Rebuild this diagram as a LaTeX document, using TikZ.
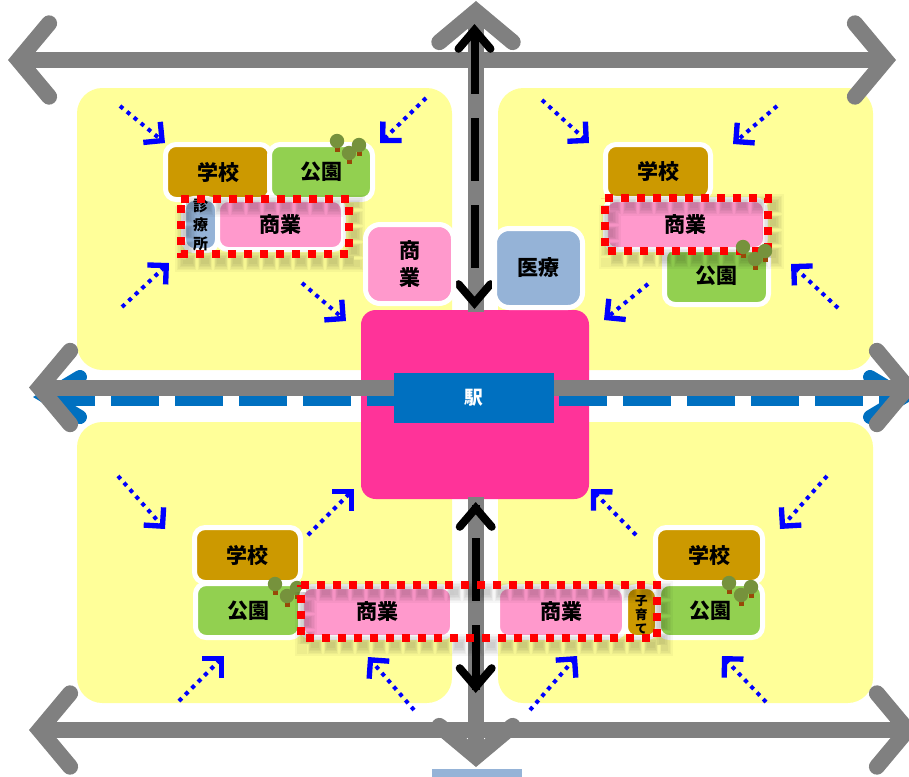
\documentclass[tikz,border=0pt]{standalone}
\usepackage{fontspec}
\setmainfont{Noto Sans CJK JP}
\usetikzlibrary{arrows.meta}
\definecolor{yel}{HTML}{FFFF99}
\definecolor{stapink}{HTML}{FF3399}
\definecolor{shop}{HTML}{FF99CC}
\definecolor{school}{HTML}{CC9900}
\definecolor{park}{HTML}{92D050}
\definecolor{med}{HTML}{95B3D7}
\definecolor{rail}{HTML}{0070C0}
\definecolor{road}{HTML}{808080}
\definecolor{crown}{HTML}{76923C}
\definecolor{trunk}{HTML}{984807}
\tikzset{
  blk/.style={draw=white,line width=3.75pt,rounded corners=8pt,inner sep=0pt,outer sep=0pt,align=center,text=black,font=\fontsize{15.75}{20}\selectfont\bfseries},
  vsmall/.style={font=\fontsize{11.25}{14.25}\selectfont\bfseries},
  vtiny/.style={font=\fontsize{9.4}{10.5}\selectfont\bfseries},
  vmed/.style={font=\fontsize{15.75}{20.25}\selectfont\bfseries},
  flat/.style={inner sep=0pt,outer sep=0pt,align=center},
  road head/.tip={Straight Barb[length=23pt,width=55pt,line cap=round]},
  road arrow/.style={draw=road,line width=12pt,road head-},
  road both/.style={draw=road,line width=12pt,road head-road head},
  rail arrow/.style={draw=rail,line width=10.5pt,-{Straight Barb[length=25pt,width=30pt,line cap=round]}},
  black arrow/.style={draw=black,line width=6pt,-{Straight Barb[length=14pt,width=24pt,line cap=round]}},
  black dash/.style={draw=black,line width=6pt,dash pattern=on 47.25pt off 18pt},
  flow/.style={draw=blue,line width=3pt,dash pattern=on 3pt off 3.75pt,-{Straight Barb[length=10pt,width=20pt,line width=4pt]}},
  zone/.style={draw=red,line width=5.8pt,dash pattern=on 6pt off 6pt,line join=miter},
  zone shadow/.style={draw=black,opacity=.035},
  trees/.pic={
    \fill[trunk] (-2.5,6) rectangle (2.5,11);
    \fill[trunk] (19.5,10) rectangle (24.5,15);
    \fill[trunk] (9.5,18) rectangle (14.5,23);
    \fill[crown] (0,0) circle[radius=5.4pt];
    \fill[crown] (22,4) circle[radius=5.4pt];
    \fill[crown] (12,12) circle[radius=5.4pt];
  }
}
\newcommand{\bx}[7][]{%
  \pgfmathsetmacro{\cxx}{(#3+#5)/2}\pgfmathsetmacro{\cyy}{(#4+#6)/2}%
  \pgfmathsetmacro{\ww}{(#5-#3+5)*.75}\pgfmathsetmacro{\hh}{(#6-#4+5)*.75}%
  \node[blk,minimum width=\ww pt,minimum height=\hh pt,#1] (#2) at (\cxx,\cyy) {#7};}
\newcommand{\pl}[7][]{%
  \pgfmathsetmacro{\cxx}{(#3+#5)/2}\pgfmathsetmacro{\cyy}{(#4+#6)/2}%
  \pgfmathsetmacro{\ww}{(#5-#3)*.75}\pgfmathsetmacro{\hh}{(#6-#4)*.75}%
  \node[flat,minimum width=\ww pt,minimum height=\hh pt,#1] (#2) at (\cxx,\cyy) {#7};}
\newcommand{\zoneframe}[4]{%
  \foreach \kk in {0,1,2,3,4,5}{%
    \pgfmathsetmacro{\lw}{5+2.2*\kk}\pgfmathsetmacro{\ona}{6+1.2*\kk}\pgfmathsetmacro{\ofa}{6-1.2*\kk}\pgfmathsetmacro{\pha}{.6*\kk}%
    \draw[zone shadow,line width=\lw pt,dash pattern=on \ona pt off \ofa pt,dash phase=\pha pt] (#1+5,#2+7) -- (#3+5,#2+7) -- (#3+5,#4+7) -- (#1+5,#4+7) -- cycle;}%
  \draw[zone] (#1,#2) -- (#3,#2) -- (#3,#4) -- (#1,#4) -- cycle;}
\begin{document}
\begin{tikzpicture}[x=0.75pt,y=-0.75pt]
\useasboundingbox (0,0) rectangle (909,776);
\clip (0,0) rectangle (909,776);
% city blocks
\pl[fill=yel,rounded corners=19pt]{ytl}{77}{88}{452}{370}{}
\pl[fill=yel,rounded corners=19pt]{ytr}{498}{88}{873}{370}{}
\pl[fill=yel,rounded corners=19pt]{ybl}{77}{422}{452}{703}{}
\pl[fill=yel,rounded corners=19pt]{ybr}{498}{422}{873}{703}{}
% station
\pl[fill=stapink,rounded corners=11pt]{sta}{361}{310}{589}{499}{}
\pl[fill=med]{bar}{432}{769}{522}{785}{}
% coordinates
\coordinate (ra) at (47,397);
\coordinate (rb) at (895,397);
\coordinate (rc) at (33,397);
\coordinate (rd) at (55,397);
\coordinate (re) at (895,397);
\coordinate (rf) at (917,397);
\coordinate (tl) at (8,60);
\coordinate (tr) at (896,60);
\coordinate (ml) at (29,387.5);
\coordinate (mr) at (918,387.5);
\coordinate (bl) at (29,730);
\coordinate (br) at (918,730);
\coordinate (vt) at (476,1);
\coordinate (vb) at (476,767);
\coordinate (vm1) at (476,312);
\coordinate (vm2) at (476,497);
\coordinate (k1) at (474.5,31);
\coordinate (k2) at (474.5,290);
\coordinate (k3) at (474.5,297);
\coordinate (k4) at (474.5,309);
\coordinate (k0) at (474.5,24);
\coordinate (k5) at (475.7,505);
\coordinate (k6) at (475.7,690);
\coordinate (k7) at (475.7,693);
\coordinate (k8) at (475.7,502);
% railway
\draw[draw=rail,line width=13pt,dash pattern=on 36pt off 12pt] (ra) -- (rb);
\draw[rail arrow] (rd) -- (rc);
\draw[rail arrow] (re) -- (rf);
\pl[fill=rail,text=white,font=\fontsize{14}{16}\selectfont\bfseries]{eki}{394}{373}{554}{423}{駅}
% roads
\draw[road both] (tl) -- (tr);
\draw[road arrow] (ml) -- (eki.west |- ml);
\draw[road arrow] (mr) -- (eki.east |- mr);
\draw[road both] (bl) -- (br);
\draw[road arrow] (vt) -- (vm1);
\draw[road arrow] (vb) -- (vm2);
% black arrows
\draw[black dash] (k1) -- (k2);
\draw[black arrow] (k1) -- (k0);
\draw[black arrow] (k3) -- (k4);
\draw[black dash,dash phase=40.5pt] (k5) -- (k6);
\draw[black arrow] (k5) -- (k8);
\draw[black arrow] (k6) -- (k7);
% flows
\foreach \n/\xa/\ya/\xb/\yb in {a/120/106/165/143,b/426/98/380/143,c/122/307/169/263,d/302/283/346/321,
  e/542/100/589/143,f/777/106/733/144,g/838/308/791/264,h/648/284/604/320,
  i/118/476/165/529,j/308/535/354/489,k/179/701/224/656,l/414/710/368/657,
  m/827/476/780/529,n/636/535/591/489,o/530/710/577/656,p/766/702/722/656}{
  \coordinate (s\n) at (\xa,\ya);
  \coordinate (t\n) at (\xb,\yb);
  \draw[flow] (s\n) -- (t\n);
}
% top-left block
\bx[fill=school]{a1}{168}{147}{268}{197}{学校}
\bx[fill=park]{a2}{272}{147}{370}{197}{公園}
\bx[fill=med,vsmall]{a3}{186}{203}{215}{246}{診\\療\\所}
\bx[fill=shop]{a4}{220}{202}{341}{247}{商業}
\pic at (337,141) {trees};
\zoneframe{181}{199}{349}{254}
% centre blocks
\bx[fill=shop,vmed,rounded corners=11pt]{c1}{368}{227}{451}{301}{商\\業}
\bx[fill=med,rounded corners=11pt]{c2}{497}{231}{580}{305}{医療}
% top-right block
\bx[fill=school]{b1}{608}{147}{708}{196}{学校}
\bx[fill=park]{b2}{667}{250}{766}{302}{\raisebox{-1.5pt}{公園}}
\bx[fill=shop]{b3}{608}{202}{763}{247}{\raisebox{-1pt}{商業}}
\zoneframe{605}{198}{768}{251}
\pic at (743,247) {trees};
% bottom-left block
\bx[fill=school]{d1}{197}{530}{298}{580}{学校}
\bx[fill=park]{d2}{198}{586}{298}{635}{公園}
\pic at (275,584) {trees};
\bx[fill=shop]{d3}{304}{589}{450}{635}{商業}
% bottom-right block
\bx[fill=school]{e1}{658}{530}{760}{580}{学校}
\bx[fill=park]{e2}{661}{586}{760}{635}{公園}
\pic at (729,583) {trees};
\bx[fill=shop]{e3}{500}{589}{622}{635}{商業}
\bx[fill=school,vtiny]{e4}{628}{589}{655}{635}{\rule{0pt}{11.5pt}子\\育\\て}
\zoneframe{301}{585}{657}{638}
\end{tikzpicture}
\end{document}
